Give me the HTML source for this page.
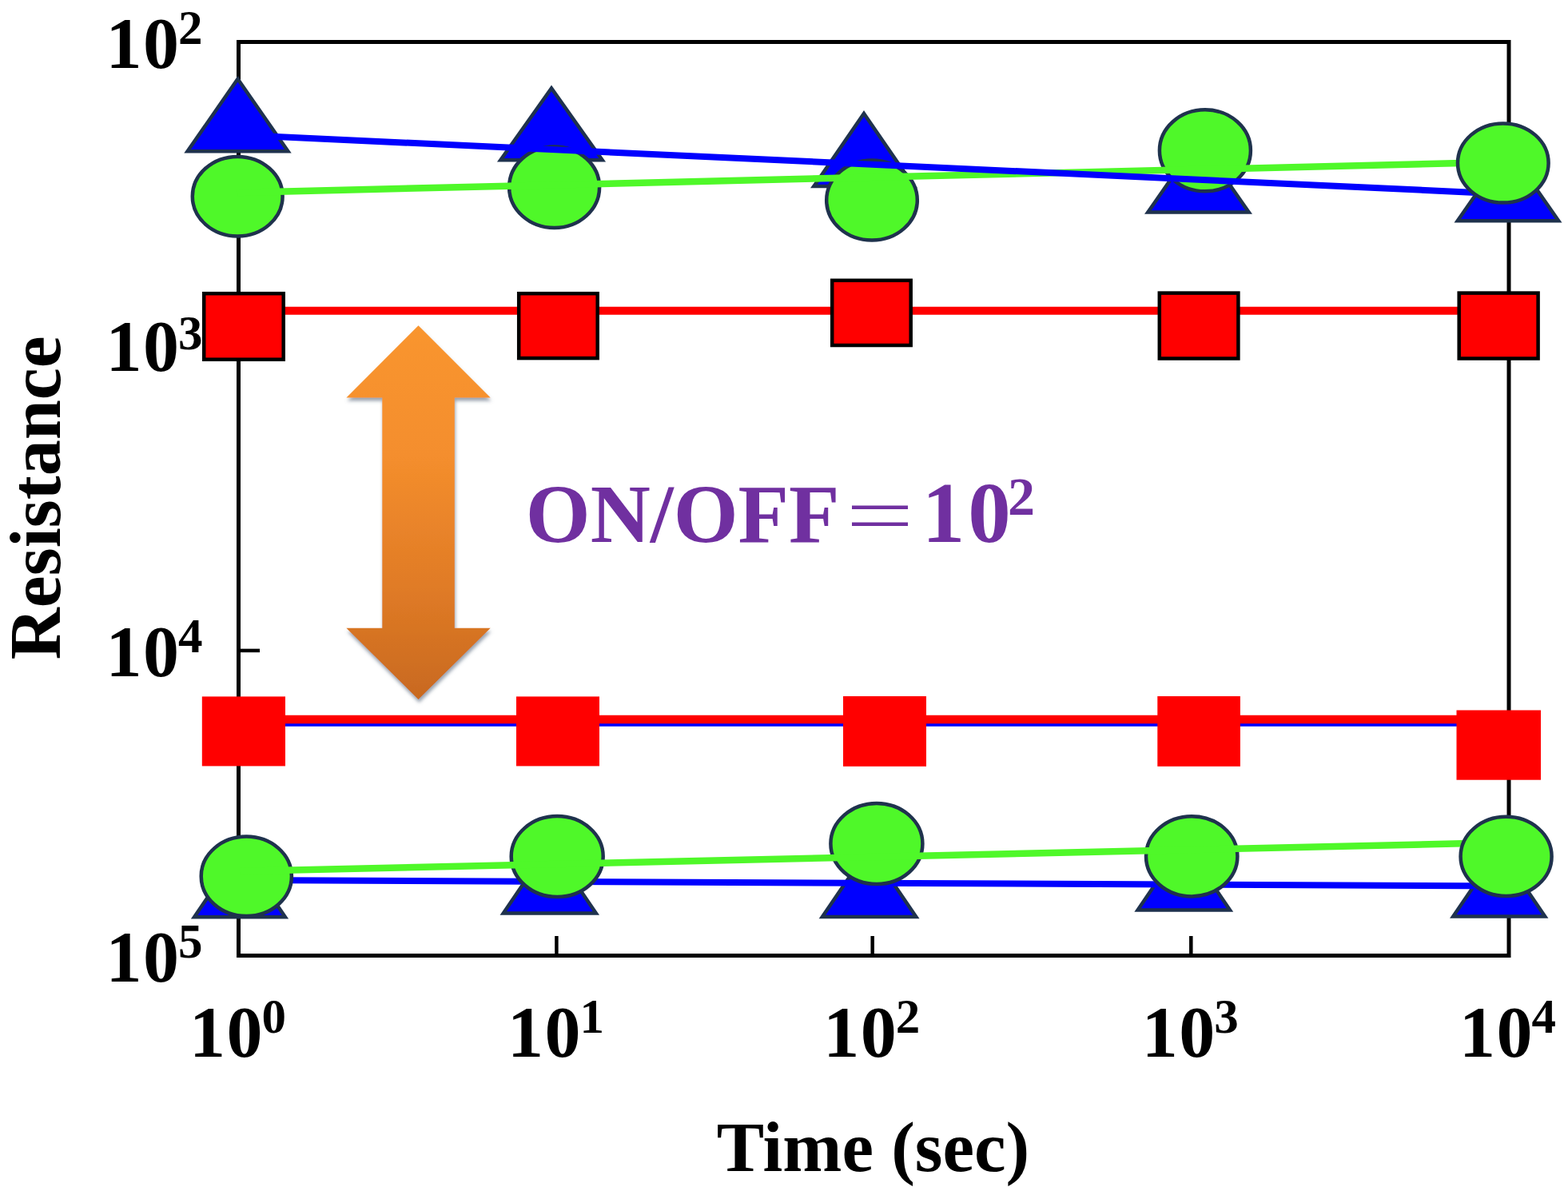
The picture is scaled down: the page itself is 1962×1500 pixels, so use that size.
<!DOCTYPE html>
<html><head><meta charset="utf-8"><title>Resistance vs Time</title>
<style>
html,body{margin:0;padding:0;background:#fff;}
body{width:1962px;height:1500px;overflow:hidden;}
svg{display:block;}
</style></head>
<body>
<svg width="1962" height="1500" viewBox="0 0 1962 1500">
<rect width="1962" height="1500" fill="#fff"/>
<rect x="298.5" y="52.5" width="1589.5" height="1143" fill="none" stroke="#000" stroke-width="5"/>
<line x1="298.5" y1="432.5" x2="325.0" y2="432.5" stroke="#000" stroke-width="4.5"/>
<line x1="298.5" y1="813.9" x2="325.0" y2="813.9" stroke="#000" stroke-width="4.5"/>
<line x1="696.4" y1="1195.5" x2="696.4" y2="1171.0" stroke="#000" stroke-width="4.5"/>
<line x1="1091.7" y1="1195.5" x2="1091.7" y2="1171.0" stroke="#000" stroke-width="4.5"/>
<line x1="1490.3" y1="1195.5" x2="1490.3" y2="1171.0" stroke="#000" stroke-width="4.5"/>
<text x="132.5" y="85.1" style="font-family:'Liberation Serif','Times New Roman',serif;font-weight:bold;font-size:90px;letter-spacing:1.5px">10</text>
<text x="223" y="55.099999999999994" style="font-family:'Liberation Serif','Times New Roman',serif;font-weight:bold;font-size:61px">2</text>
<text x="132.5" y="463.5" style="font-family:'Liberation Serif','Times New Roman',serif;font-weight:bold;font-size:90px;letter-spacing:1.5px">10</text>
<text x="223" y="436.5" style="font-family:'Liberation Serif','Times New Roman',serif;font-weight:bold;font-size:61px">3</text>
<text x="132.5" y="846.4" style="font-family:'Liberation Serif','Times New Roman',serif;font-weight:bold;font-size:90px;letter-spacing:1.5px">10</text>
<text x="223" y="816.4" style="font-family:'Liberation Serif','Times New Roman',serif;font-weight:bold;font-size:61px">4</text>
<text x="132.5" y="1228.2" style="font-family:'Liberation Serif','Times New Roman',serif;font-weight:bold;font-size:90px;letter-spacing:1.5px">10</text>
<text x="223" y="1198.2" style="font-family:'Liberation Serif','Times New Roman',serif;font-weight:bold;font-size:61px">5</text>
<text x="237.0" y="1321.5" style="font-family:'Liberation Serif','Times New Roman',serif;font-weight:bold;font-size:90px;letter-spacing:1.5px">10</text>
<text x="327.5" y="1291.5" style="font-family:'Liberation Serif','Times New Roman',serif;font-weight:bold;font-size:61px">0</text>
<text x="634.9" y="1321.5" style="font-family:'Liberation Serif','Times New Roman',serif;font-weight:bold;font-size:90px;letter-spacing:1.5px">10</text>
<text x="725.4" y="1291.5" style="font-family:'Liberation Serif','Times New Roman',serif;font-weight:bold;font-size:61px">1</text>
<text x="1030.2" y="1321.5" style="font-family:'Liberation Serif','Times New Roman',serif;font-weight:bold;font-size:90px;letter-spacing:1.5px">10</text>
<text x="1120.7" y="1291.5" style="font-family:'Liberation Serif','Times New Roman',serif;font-weight:bold;font-size:61px">2</text>
<text x="1428.8" y="1321.5" style="font-family:'Liberation Serif','Times New Roman',serif;font-weight:bold;font-size:90px;letter-spacing:1.5px">10</text>
<text x="1519.3" y="1291.5" style="font-family:'Liberation Serif','Times New Roman',serif;font-weight:bold;font-size:61px">3</text>
<text x="1826.0" y="1321.5" style="font-family:'Liberation Serif','Times New Roman',serif;font-weight:bold;font-size:90px;letter-spacing:1.5px">10</text>
<text x="1916.5" y="1291.5" style="font-family:'Liberation Serif','Times New Roman',serif;font-weight:bold;font-size:61px">4</text>
<text x="1092.5" y="1464.8" text-anchor="middle" style="font-family:'Liberation Serif','Times New Roman',serif;font-weight:bold;font-size:89px">Time (sec)</text>
<text transform="translate(75.2,622.7) rotate(-90)" text-anchor="middle" style="font-family:'Liberation Serif','Times New Roman',serif;font-weight:bold;font-size:90px">Resistance</text>
<defs>
<linearGradient id="ag" x1="0" y1="0" x2="0" y2="1">
<stop offset="0" stop-color="#f9952f"/><stop offset="0.35" stop-color="#f48e2d"/><stop offset="0.7" stop-color="#e07b26"/><stop offset="1" stop-color="#c8691f"/>
</linearGradient>
<filter id="sh" x="-20%" y="-20%" width="140%" height="140%">
<feGaussianBlur in="SourceAlpha" stdDeviation="2.2"/>
<feOffset dx="0.5" dy="4" result="o"/>
<feFlood flood-color="#56657a" flood-opacity="0.6"/>
<feComposite in2="o" operator="in" result="s"/>
<feMerge><feMergeNode in="s"/><feMergeNode in="SourceGraphic"/></feMerge>
</filter>
</defs>
<path d="M523.5,407.3 L613.7,497.6 L568.8,497.6 L568.8,785.7 L613.7,785.7 L523.5,875 L433.4,785.7 L478.3,785.7 L478.3,497.6 L433.4,497.6 Z" fill="url(#ag)" filter="url(#sh)"/>
<text x="657.8" y="678" style="font-family:'Liberation Serif','Times New Roman',serif;font-weight:bold;font-size:104px;fill:#7030a0">ON/OFF</text>
<text x="1051" y="681.5" style="font-family:'Noto Serif CJK SC',serif;font-size:100px;fill:#7030a0">＝</text>
<text x="1153.7" y="678" style="font-family:'Liberation Serif','Times New Roman',serif;font-weight:bold;font-size:107px;fill:#7030a0;letter-spacing:4px">10</text>
<text x="1261" y="644" style="font-family:'Liberation Serif','Times New Roman',serif;font-weight:bold;font-size:68px;fill:#7030a0">2</text>
<line x1="298.5" y1="904.7" x2="1888.0" y2="904.7" stroke="#0000ff" stroke-width="8"/>
<line x1="298.5" y1="900.0" x2="1888.0" y2="900.0" stroke="#ff0000" stroke-width="10.5"/>
<rect x="252.8" y="871.4" width="104.2" height="87.0" fill="#ff0000"/>
<rect x="646.0" y="871.4" width="104.0" height="87.0" fill="#ff0000"/>
<rect x="1055.0" y="871.0" width="104.0" height="87.8" fill="#ff0000"/>
<rect x="1448.3" y="871.0" width="103.6" height="87.8" fill="#ff0000"/>
<rect x="1822.5" y="888.5" width="105.5" height="87.2" fill="#ff0000"/>
<line x1="298.5" y1="388.7" x2="1888.0" y2="388.7" stroke="#ff0000" stroke-width="10"/>
<rect x="255.2" y="367.2" width="99.5" height="82.5" fill="#ff0000" stroke="#000" stroke-width="4.5"/>
<rect x="649.2" y="367.2" width="98.5" height="80.9" fill="#ff0000" stroke="#000" stroke-width="4.5"/>
<rect x="1041.2" y="350.8" width="98.5" height="81.2" fill="#ff0000" stroke="#000" stroke-width="4.5"/>
<rect x="1450.8" y="366.6" width="98.6" height="81.9" fill="#ff0000" stroke="#000" stroke-width="4.5"/>
<rect x="1825.7" y="366.6" width="98.9" height="81.9" fill="#ff0000" stroke="#000" stroke-width="4.5"/>
<path d="M297.5,98.8 L360.4,189.3 L234.6,189.3 Z" fill="#0000ff" stroke="#1f324d" stroke-width="4.5" stroke-linejoin="miter"/>
<path d="M690.0,110.4 L753.7,200.2 L626.3,200.2 Z" fill="#0000ff" stroke="#1f324d" stroke-width="4.5" stroke-linejoin="miter"/>
<path d="M1081.0,142.0 L1143.7,233.1 L1018.3,233.1 Z" fill="#0000ff" stroke="#1f324d" stroke-width="4.5" stroke-linejoin="miter"/>
<path d="M1499.5,174.8 L1562.7,265.6 L1436.3,265.6 Z" fill="#0000ff" stroke="#1f324d" stroke-width="4.5" stroke-linejoin="miter"/>
<path d="M1887.0,185.5 L1950.2,276.2 L1823.8,276.2 Z" fill="#0000ff" stroke="#1f324d" stroke-width="4.5" stroke-linejoin="miter"/>
<ellipse cx="297.2" cy="245.7" rx="56.4" ry="49.8" fill="#4ff829" stroke="#1f324d" stroke-width="4.5"/>
<ellipse cx="693.6" cy="234.2" rx="56.5" ry="50.8" fill="#4ff829" stroke="#1f324d" stroke-width="4.5"/>
<ellipse cx="1091.0" cy="250.5" rx="56.8" ry="50.0" fill="#4ff829" stroke="#1f324d" stroke-width="4.5"/>
<ellipse cx="1507.9" cy="188.3" rx="57.0" ry="51.0" fill="#4ff829" stroke="#1f324d" stroke-width="4.5"/>
<line x1="297.0" y1="240.9" x2="1881.0" y2="202.8" stroke="#4ff829" stroke-width="8.5"/>
<line x1="298.0" y1="168.8" x2="1888.0" y2="242.9" stroke="#0000ff" stroke-width="8"/>
<ellipse cx="1880.8" cy="204.0" rx="56.8" ry="49.6" fill="#4ff829" stroke="#1f324d" stroke-width="4.5"/>
<path d="M300.0,1063.4 L356.9,1147.2 L243.1,1147.2 Z" fill="#0000ff" stroke="#1f324d" stroke-width="4.5" stroke-linejoin="miter"/>
<path d="M687.8,1057.2 L745.8,1142.5 L629.8,1142.5 Z" fill="#0000ff" stroke="#1f324d" stroke-width="4.5" stroke-linejoin="miter"/>
<path d="M1087.6,1060.7 L1146.3,1147.0 L1028.9,1147.0 Z" fill="#0000ff" stroke="#1f324d" stroke-width="4.5" stroke-linejoin="miter"/>
<path d="M1481.3,1053.6 L1539.0,1138.5 L1423.6,1138.5 Z" fill="#0000ff" stroke="#1f324d" stroke-width="4.5" stroke-linejoin="miter"/>
<path d="M1875.8,1062.0 L1933.2,1146.5 L1818.3,1146.5 Z" fill="#0000ff" stroke="#1f324d" stroke-width="4.5" stroke-linejoin="miter"/>
<line x1="300.0" y1="1101.0" x2="1888.0" y2="1108.5" stroke="#0000ff" stroke-width="8"/>
<ellipse cx="308.3" cy="1096.3" rx="56.6" ry="49.8" fill="#4ff829" stroke="#1f324d" stroke-width="4.5"/>
<ellipse cx="697.2" cy="1071.6" rx="57.5" ry="50.5" fill="#4ff829" stroke="#1f324d" stroke-width="4.5"/>
<ellipse cx="1096.9" cy="1055.6" rx="57.5" ry="50.5" fill="#4ff829" stroke="#1f324d" stroke-width="4.5"/>
<ellipse cx="1491.2" cy="1071.3" rx="57.2" ry="50.1" fill="#4ff829" stroke="#1f324d" stroke-width="4.5"/>
<line x1="300.0" y1="1090.0" x2="1830.0" y2="1055.3" stroke="#4ff829" stroke-width="8.5"/>
<ellipse cx="1884.6" cy="1071.4" rx="57.0" ry="49.6" fill="#4ff829" stroke="#1f324d" stroke-width="4.5"/>
</svg>
</body></html>
